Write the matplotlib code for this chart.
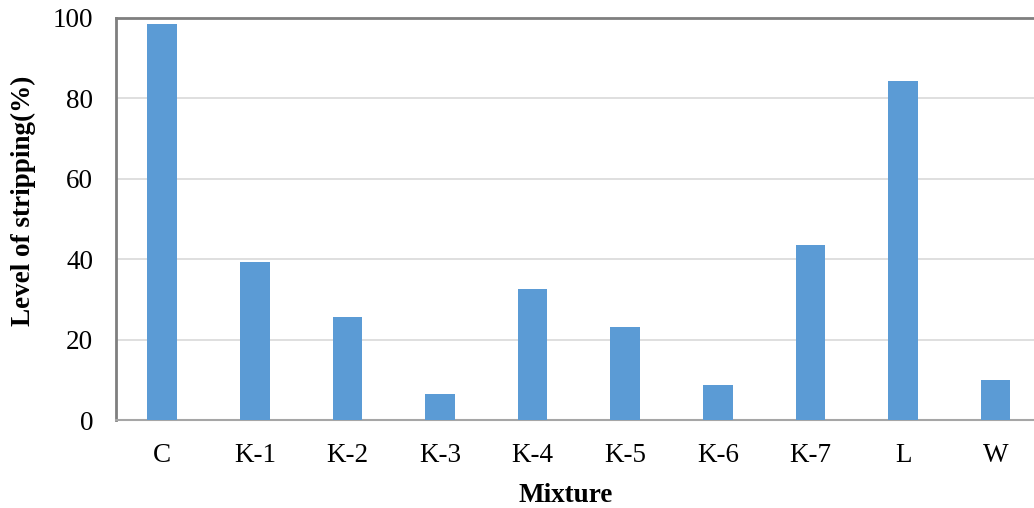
import numpy as np
import matplotlib.pyplot as plt

plt.rcParams['font.family'] = ['Liberation Serif', 'DejaVu Serif']

mixtures = ['C', 'K-1', 'K-2', 'K-3', 'K-4', 'K-5', 'K-6', 'K-7', 'L', 'W']
stripping = [98.5, 39.3, 25.6, 6.5, 32.6, 23.1, 8.7, 43.5, 84.3, 10.0]

fig = plt.figure(figsize=(10.34, 5.08), dpi=100)
ax = fig.add_axes([116 / 1034, (508 - 420) / 508, (1034 - 116) / 1034, (420 - 18) / 508])

x = np.arange(len(mixtures))
ax.bar(x, stripping, width=0.32, color='#5b9bd5', zorder=3)

ax.set_xlim(-0.5, 9.414)
ax.set_ylim(0, 100)
ax.set_yticks(np.arange(0, 101, 20))
ax.set_xticks(x)
ax.set_xticklabels(mixtures)
ax.yaxis.grid(True, color='#d9d9d9', linewidth=1.2, zorder=0)

for side in ['left', 'top']:
    ax.spines[side].set_color('#7f7f7f')
    ax.spines[side].set_linewidth(2)
ax.spines['bottom'].set_color('#a6a6a6')
ax.spines['bottom'].set_linewidth(1.5)
ax.spines['right'].set_visible(False)

ax.tick_params(length=0, labelsize=19.5)
ax.tick_params(axis='x', pad=16.5)
ax.tick_params(axis='y', pad=16.5)
ax.set_xlabel('Mixture', fontsize=19.5, fontweight='bold', labelpad=10.5)
ax.set_ylabel('Level of stripping(%)', fontsize=19.5, fontweight='bold', labelpad=12)
# labels sit a little off the axis centre
ax.xaxis.label.set_x(0.49)
ax.yaxis.label.set_y(0.545)

fig.savefig('out.png', dpi=100)
